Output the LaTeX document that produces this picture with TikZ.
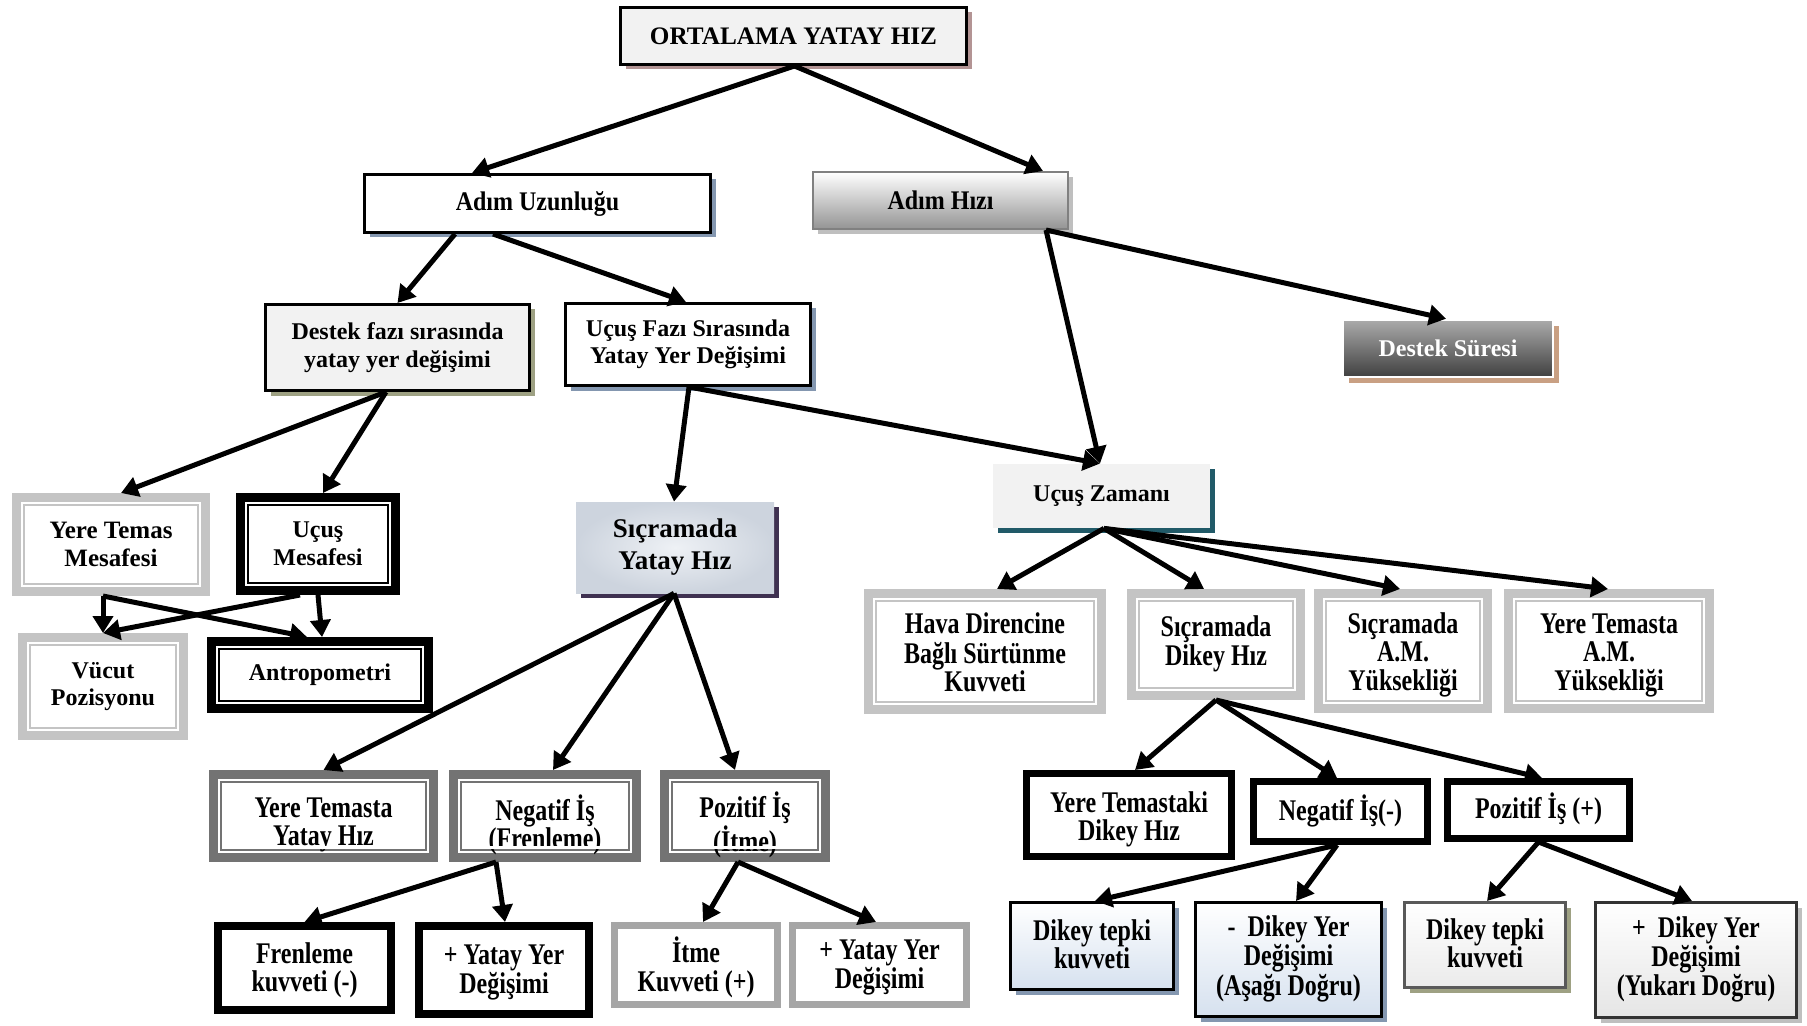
\documentclass[tikz,border=0pt]{standalone}
\usepackage{fontspec}
\setmainfont{Liberation Serif}
\usepackage{graphicx}
\usetikzlibrary{arrows.meta,shadows,calc}

\definecolor{shtop}{HTML}{B39494}
\definecolor{shblue}{HTML}{8497B0}
\definecolor{sholive}{HTML}{9EA183}
\definecolor{shtan}{HTML}{C9A083}
\definecolor{shpurple}{HTML}{3F3151}
\definecolor{shteal}{HTML}{215A68}
\definecolor{shgray}{HTML}{BFBFBF}
\definecolor{lgray}{HTML}{F2F2F2}
\definecolor{bandl}{HTML}{C4C4C4}
\definecolor{bandd}{HTML}{737373}
\definecolor{bandm}{HTML}{A6A6A6}
\definecolor{lblue}{HTML}{D6E1EF}
\definecolor{syhout}{HTML}{CDD4DE}
\definecolor{syhin}{HTML}{EEF1F5}

\newcommand\tallt[1]{\scalebox{1}[1.25]{\def\arraystretch{0.77}\begin{tabular}{@{}c@{}}#1\end{tabular}}}
\newcommand\tallr[2]{\raisebox{#1}[\height][\depth]{\tallt{#2}}}
\newcommand\semt[1]{\scalebox{1}[1.12]{#1}}

% style, name, x1, y1, x2, y2, shrink, text  (pixel units of the reference)
\newcommand\bnode[8]{%
  \node[#1, minimum width={(#5-#3-#7)*0.5pt}, minimum height={(#6-#4-#7)*0.5pt}]
    (#2) at ({(#3+#5)/2},{(#4+#6)/2}) {#8};}

\tikzset{
  base/.style={inner sep=0pt, align=center, font=\fontsize{12}{13.8}\selectfont\bfseries},
  dbl/.style={base, draw=#1, line width=4.5pt, fill=white,
    path picture={\draw[#1, line width=1pt]
      ([shift={(3.75pt,3.75pt)}]path picture bounding box.south west) rectangle
      ([shift={(-3.75pt,-3.75pt)}]path picture bounding box.north east);}},
  heavy/.style={base, draw=#1, line width=3.5pt, fill=white},
  shad/.style={drop shadow={shadow xshift=2.5pt, shadow yshift=-2.5pt, fill=#1, opacity=1}},
  arr/.style={line width=2.5pt, -{Triangle[length=8.5pt,width=10pt]}},
}

\begin{document}
\begin{tikzpicture}[x=0.5pt, y=-0.5pt]
\useasboundingbox (0,0) rectangle (1807,1026);

% level 0
\bnode{base, draw=black, line width=1.5pt, fill=lgray, shad=shtop, font=\fontsize{12.6}{14}\selectfont\bfseries}{top}{619}{6}{968}{66}{3}{ORTALAMA YATAY HIZ}

% level 1
\bnode{base, draw=black, line width=1.5pt, fill=white, shad=shblue}{auz}{363}{173}{712}{234}{3}{\semt{Adım Uzunluğu}}
\bnode{base, draw=black!50, line width=1pt, top color=white, bottom color=black!42, shad=shgray}{ahz}{812}{171}{1069}{230}{2}{\semt{Adım Hızı}}

% level 2
\bnode{base, draw=white, line width=1.2pt, top color=black!33, bottom color=black!75, text=white,
  drop shadow={shadow xshift=3pt, shadow yshift=-3pt, fill=shtan, opacity=1}}{dsr}{1343}{320}{1553}{377}{0}{Destek Süresi}
\bnode{base, draw=black, line width=1.5pt, fill=lgray, shad=sholive}{dfz}{264}{303}{531}{392}{3}{Destek fazı sırasında\\yatay yer değişimi}
\bnode{base, draw=black, line width=1.5pt, fill=white, shad=shblue}{ufz}{564}{302}{812}{387}{3}{Uçuş Fazı Sırasında\\Yatay Yer Değişimi}

% level 3
\bnode{dbl=bandl, font=\fontsize{12.5}{14}\selectfont\bfseries}{ytm}{12}{493}{210}{596}{9}{Yere Temas\\Mesafesi}
\bnode{dbl=black}{umf}{236}{493}{400}{595}{9}{Uçuş\\Mesafesi}
\bnode{dbl=bandl}{vcp}{18}{633}{188}{740}{9}{Vücut\\Pozisyonu}
\bnode{dbl=black}{ant}{207}{637}{433}{713}{9}{Antropometri}
\bnode{base, inner color=syhin, outer color=syhout, shad=shpurple, font=\fontsize{13.5}{16}\selectfont\bfseries}{syh}{576}{502}{774}{593}{0}{Sıçramada\\Yatay Hız}
\bnode{base, fill=lgray, shad=shteal}{uzm}{993}{464}{1210}{528}{0}{Uçuş Zamanı}

% level 4 right
\bnode{dbl=bandl}{hav}{864}{589}{1106}{714}{9}{\tallr{-2.5pt}{Hava Direncine\\Bağlı Sürtünme\\Kuvveti}}
\bnode{dbl=bandl}{sdh}{1127}{589}{1305}{700}{9}{\tallt{Sıçramada\\Dikey Hız}}
\bnode{dbl=bandl}{sam}{1314}{589}{1492}{713}{9}{\tallr{-2.5pt}{Sıçramada\\A.M.\\Yüksekliği}}
\bnode{dbl=bandl}{yam}{1504}{589}{1714}{713}{9}{\tallr{-2.5pt}{Yere Temasta\\A.M.\\Yüksekliği}}

% level 5
\bnode{dbl=bandd}{yyh}{209}{770}{438}{862}{9}{\tallr{-4.8pt}{Yere Temasta\\Yatay Hız}}
\bnode{dbl=bandd}{nif}{449}{770}{641}{862}{9}{\tallr{-4.8pt}{Negatif İş\\(Frenleme)}}
\bnode{dbl=bandd}{pit}{660}{770}{830}{862}{9}{\tallr{-4.8pt}{Pozitif İş\\(İtme)}}
\bnode{heavy=black}{ytd}{1023}{770}{1235}{860}{7}{\tallr{-2.5pt}{Yere Temastaki\\Dikey Hız}}
\bnode{heavy=black}{nim}{1250}{778}{1431}{845}{7}{\tallt{Negatif İş(-)}}
\bnode{heavy=black}{pip}{1444}{778}{1633}{842}{7}{\tallt{Pozitif İş (+)}}

% level 6
\bnode{heavy=black, line width=4pt}{frk}{214}{922}{395}{1014}{8}{\tallr{-1.5pt}{Frenleme\\kuvveti (-)}}
\bnode{heavy=black, line width=4pt}{yy1}{415}{922}{593}{1018}{8}{\tallr{-1.5pt}{+ Yatay Yer\\Değişimi}}
\bnode{heavy=bandm}{itk}{611}{922}{781}{1008}{7}{\tallr{-1.5pt}{İtme\\Kuvveti (+)}}
\bnode{heavy=bandm}{yy2}{789}{922}{970}{1008}{7}{\tallr{-1.5pt}{+ Yatay Yer\\Değişimi}}
\bnode{base, draw=black, line width=1.5pt, top color=white, bottom color=lblue, shad=shblue}{dt1}{1009}{901}{1175}{991}{3}{\tallr{-1pt}{Dikey tepki\\kuvveti}}
\bnode{base, draw=black, line width=1.5pt, top color=white, bottom color=lblue, shad=shblue}{dy1}{1194}{901}{1383}{1018}{3}{\tallt{-~~Dikey Yer\\Değişimi\\(Aşağı Doğru)}}
\bnode{base, draw=black!65, line width=1.5pt, top color=white, bottom color=black!8, shad=sholive}{dt2}{1403}{901}{1567}{989}{3}{\tallr{-1pt}{Dikey tepki\\kuvveti}}
\bnode{base, draw=black!80, line width=1.5pt, top color=white, bottom color=black!10, shad=shgray}{dy2}{1594}{901}{1798}{1019}{3}{\tallt{+~~Dikey Yer\\Değişimi\\(Yukarı Doğru)}}

% clipped text bottoms
\fill[white] (222,845.5) rectangle (425,848.5);
\fill[white] (462,845.5) rectangle (628,848.5);
\fill[white] (673,845.5) rectangle (817,848.5);

% connectors
\draw[arr] ([xshift=0.5pt]top.south) -- ([xshift=-32.75pt]auz.north);
\draw[arr] ([xshift=0.5pt]top.south) -- ([xshift=51.25pt]ahz.north);
\draw[arr] ([xshift=-41.25pt]auz.south) -- (dfz.north);
\draw[arr] ([xshift=-22.25pt]auz.south) -- ([xshift=-1pt]ufz.north);
\draw[arr] ([xshift=52.75pt]ahz.south) -- ([xshift=-1pt]dsr.north);
\draw[arr] ([xshift=52.75pt]ahz.south) -- ([xshift=-0.75pt]uzm.north);
\draw[arr] ([xshift=-5.75pt]dfz.south) -- ([xshift=5pt]ytm.north);
\draw[arr] ([xshift=-5.75pt]dfz.south) -- ([xshift=2.5pt]umf.north);
\draw[arr] ([xshift=0.5pt]ufz.south) -- ([xshift=-0.5pt]syh.north);
\draw[arr] ([xshift=0.5pt]ufz.south) -- ([xshift=-0.75pt]uzm.north);
\draw[arr] ([xshift=-4pt]ytm.south) -- (vcp.north);
\draw[arr] ([xshift=-4pt]ytm.south) -- ([xshift=-6.5pt]ant.north);
\draw[arr] ([xshift=-9pt]umf.south) -- (vcp.north);
\draw[arr] (umf.south) -- ([xshift=1pt]ant.north);
\draw[arr] ([xshift=-0.5pt]syh.south) -- (yyh.north);
\draw[arr] ([xshift=-0.5pt]syh.south) -- ([xshift=4pt]nif.north);
\draw[arr] ([xshift=-0.5pt]syh.south) -- ([xshift=-5pt]pit.north);
\draw[arr] ([xshift=-24.5pt]nif.south) -- (frk.north);
\draw[arr] ([xshift=-24.5pt]nif.south) -- ([xshift=0.5pt]yy1.north);
\draw[arr] ([xshift=-3.5pt]pit.south) -- ([xshift=3.5pt]itk.north);
\draw[arr] ([xshift=-3.5pt]pit.south) -- ([xshift=-1.75pt]yy2.north);
\draw[arr] ([xshift=1.25pt]uzm.south) -- ([xshift=6pt]hav.north);
\draw[arr] ([xshift=1.25pt]uzm.south) -- ([xshift=-6pt]sdh.north);
\draw[arr] ([xshift=1.25pt]uzm.south) -- ([xshift=-1.5pt]sam.north);
\draw[arr] ([xshift=1.25pt]uzm.south) -- ([xshift=-0.5pt]yam.north);
\draw[arr] (sdh.south) -- ([xshift=3pt]ytd.north);
\draw[arr] (sdh.south) -- ([xshift=-1.75pt]nim.north);
\draw[arr] (sdh.south) -- ([xshift=1.75pt]pip.north);
\draw[arr] ([xshift=-1.75pt]nim.south) -- ([xshift=1.5pt]dt1.north);
\draw[arr] ([xshift=-1.75pt]nim.south) -- ([xshift=3.75pt]dy1.north);
\draw[arr] (pip.south) -- ([xshift=1pt]dt2.north);
\draw[arr] (pip.south) -- ([xshift=-2pt]dy2.north);
\end{tikzpicture}
\end{document}
